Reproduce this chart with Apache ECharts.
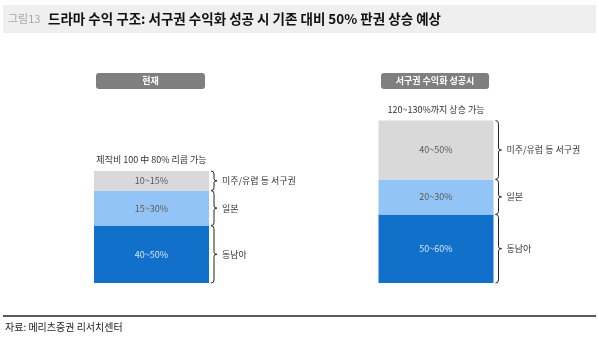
<!DOCTYPE html>
<html><head><meta charset="utf-8">
<script src="https://cdn.jsdelivr.net/npm/echarts@6/dist/echarts.min.js"></script>
<style>html,body{margin:0;padding:0;background:#fff}#c{width:599px;height:338px}</style>
</head>
<body><div id="c"></div>
<script>
const scenarios = ['현재', '서구권 수익화 성공시'];
const regions = ['동남아', '일본', '미주/유럽 등 서구권'];
const seaValues = [41, 49];
const japanValues = [25, 25];
const westValues = [14, 42];
const seaRanges = ['40~50%', '50~60%'];
const japanRanges = ['15~30%', '20~30%'];
const westRanges = ['10~15%', '40~50%'];
const topNotes = ['제작비 100 中 80% 리쿱 가능', '120~130%까지 상승 가능'];

const FONT = '"Noto Sans CJK KR", "Noto Sans", sans-serif';
const BAR_W = 115;
const colors = ['#1170c9', '#92c5f5', '#d9d9d9'];
const stacks = [seaValues, japanValues, westValues];
const ranges = [seaRanges, japanRanges, westRanges];

// brace data: [category index, lower cumulative, upper cumulative]
const braceData = [];
const braceNames = [];
scenarios.forEach((s, i) => {
  let cum = 0;
  stacks.forEach((arr, k) => {
    braceData.push([i, cum, cum + arr[i]]);
    braceNames.push(regions[k]);
    cum += arr[i];
  });
});
const totals = scenarios.map((s, i) => [i, stacks.reduce((a, arr) => a + arr[i], 0)]);

const chart = echarts.init(document.getElementById('c'), null, {renderer: 'canvas'});

const barSeries = stacks.map((arr, k) => ({
  type: 'bar', name: regions[k], stack: 'a', data: arr, barWidth: BAR_W,
  itemStyle: {color: colors[k]},
  label: {
    show: true, position: 'inside', fontFamily: FONT, fontSize: 9,
    color: k === 0 ? '#d3e6f8' : '#595959',
    formatter: p => ranges[k][p.dataIndex]
  },
  silent: true
}));

const option = {
  animation: false,
  grid: {left: 9.25, right: 20.75, top: 73, bottom: 55},
  xAxis: {type: 'category', data: scenarios, show: false},
  yAxis: {type: 'value', min: 0, max: 150, show: false},
  graphic: [
    {type: 'rect', shape: {x: 3, y: 5, width: 593, height: 28}, style: {fill: '#efefef'}},
    {type: 'text', x: 8, y: 19, style: {text: '그림13', font: '11px ' + FONT, fill: '#a6a6a6', verticalAlign: 'middle'}},
    {type: 'text', x: 48, y: 19, style: {text: '드라마 수익 구조: 서구권 수익화 성공 시 기존 대비 50% 판권 상승 예상', font: 'bold 13.5px ' + FONT, fill: '#111', verticalAlign: 'middle'}},
    {type: 'rect', shape: {x: 96, y: 73, width: 109, height: 16, r: 3}, style: {fill: '#7f7f7f'}},
    {type: 'text', x: 150.5, y: 81, style: {text: scenarios[0], font: 'bold 9px ' + FONT, fill: '#fff', align: 'center', verticalAlign: 'middle'}},
    {type: 'rect', shape: {x: 381, y: 73, width: 108, height: 16, r: 3}, style: {fill: '#7f7f7f'}},
    {type: 'text', x: 435, y: 81, style: {text: scenarios[1], font: 'bold 9px ' + FONT, fill: '#fff', align: 'center', verticalAlign: 'middle'}},
    {type: 'line', shape: {x1: 3, y1: 316, x2: 596, y2: 316}, style: {stroke: '#222', lineWidth: 1.5}},
    {type: 'text', x: 5, y: 327, style: {text: '자료: 메리츠증권 리서치센터', font: '10px ' + FONT, fill: '#222', verticalAlign: 'middle'}}
  ],
  series: barSeries.concat([
    {
      type: 'custom', data: braceData, silent: true, clip: false,
      renderItem: (params, api) => {
        const c = api.value(0), lo = api.value(1), hi = api.value(2);
        const pt = api.coord([c, hi]), pb = api.coord([c, lo]);
        const x0 = pt[0] + BAR_W / 2 + 2, x1 = x0 + 3, x2 = x0 + 6;
        const y1 = pt[1], y2 = pb[1], m = (y1 + y2) / 2;
        const d = `M${x0} ${y1} Q${x1} ${y1} ${x1} ${y1 + 3} L${x1} ${m - 2} Q${x1} ${m} ${x2} ${m} Q${x1} ${m} ${x1} ${m + 2} L${x1} ${y2 - 3} Q${x1} ${y2} ${x0} ${y2}`;
        return {
          type: 'group', children: [
            {type: 'path', shape: {pathData: d}, style: {stroke: '#222', fill: null, lineWidth: 1}},
            {type: 'text', style: {text: braceNames[params.dataIndex], x: x0 + 11, y: m, font: '9px ' + FONT, fill: '#333', verticalAlign: 'middle'}}
          ]
        };
      }
    },
    {
      type: 'custom', data: totals, silent: true, clip: false,
      renderItem: (params, api) => {
        const p = api.coord([api.value(0), api.value(1)]);
        return {type: 'text', style: {text: topNotes[params.dataIndex], x: p[0], y: p[1] - 11, font: '9px ' + FONT, fill: '#333', align: 'center', verticalAlign: 'middle'}};
      }
    }
  ])
};
chart.setOption(option);
</script>
</body></html>
